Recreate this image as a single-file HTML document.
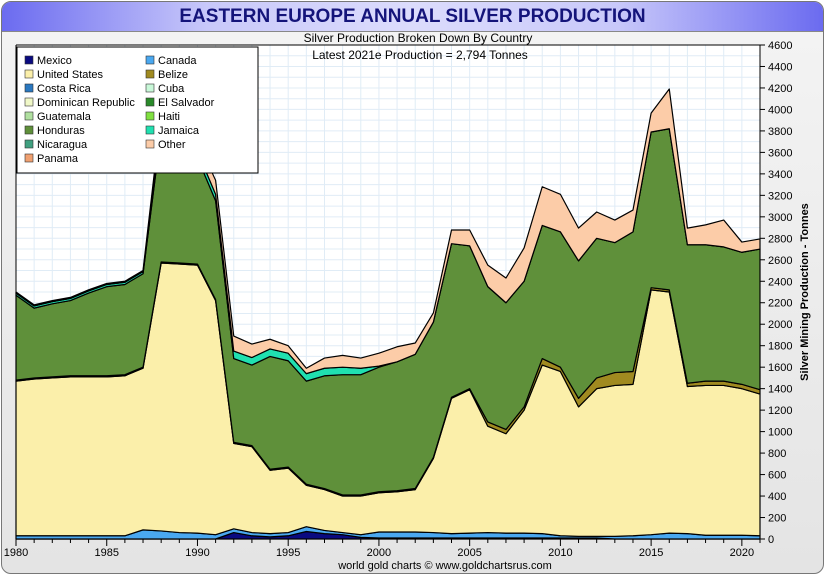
<!DOCTYPE html>
<html><head><meta charset="utf-8"><style>
body{margin:0;width:825px;height:575px;overflow:hidden;background:#fff;font-family:"Liberation Sans",sans-serif}
#frame{position:absolute;left:1px;top:1px;width:821px;height:571px;border:1px solid #777;border-radius:10px;background:linear-gradient(#f4f4f4,#e4e4e4);overflow:hidden}
#title{position:absolute;left:0;top:0;width:821px;height:29px;background:linear-gradient(90deg,#6b6bf0,#c8c8fa 25%,#dcdcfc 50%,#c8c8fa 75%,#6b6bf0);border-bottom:1px solid #888;text-align:center;font:bold 19px "Liberation Sans",sans-serif;color:#14147a;line-height:30px}
svg{position:absolute;left:0;top:0}
</style></head><body>
<div id="frame"><div id="title">EASTERN EUROPE ANNUAL SILVER PRODUCTION</div></div>
<svg id="chart" width="825" height="575"></svg>
<script>
const years=[];for(let y=1980;y<=2021;y++)years.push(y);
const mexico=[0,0,0,0,0,0,0,0,0,0,0,0,60,30,20,30,70,50,40,15,10,10,10,10,10,10,10,10,10,10,10,10,10,0,0,0,0,0,0,0,0,0];
const canada=[30,30,30,30,30,30,30,85,75,60,55,40,35,30,30,30,45,30,20,25,55,55,55,50,40,45,50,45,45,40,20,15,15,25,30,40,55,50,35,35,35,30];
const unitedStates=[1440,1460,1470,1480,1480,1480,1490,1505,2495,2500,2495,2180,795,800,590,600,385,380,340,360,365,375,395,690,1260,1335,990,925,1145,1570,1530,1205,1375,1405,1410,2280,2245,1370,1395,1395,1365,1320];
const belize=[10,10,10,10,10,10,10,10,10,10,10,10,10,10,10,10,10,10,10,10,10,10,10,10,10,10,40,40,30,60,40,80,100,120,120,20,20,30,40,40,40,40];
const honduras=[790,650,680,700,770,830,840,870,1220,1280,990,920,780,750,1050,990,960,1050,1120,1120,1160,1200,1250,1260,1430,1330,1260,1180,1170,1240,1260,1280,1300,1210,1300,1450,1500,1290,1270,1250,1230,1310];
const jamaica=[20,20,20,20,20,20,20,20,60,60,60,60,70,70,70,70,70,70,70,60,10,0,0,0,0,0,0,0,0,0,0,0,0,0,0,0,0,0,0,0,0,0];
const other=[10,10,10,10,10,10,10,10,100,100,100,130,140,125,90,70,50,95,110,95,120,140,105,85,127,147,200,230,310,360,350,305,245,210,203,176,370,155,185,250,95,94];
const yTicks=[0,200,400,600,800,1000,1200,1400,1600,1800,2000,2200,2400,2600,2800,3000,3200,3400,3600,3800,4000,4200,4400,4600];
const xTickLabels=[1980,1985,1990,1995,2000,2005,2010,2015,2020];
const series=[["Mexico",mexico,"#0a0a80"],["Canada",canada,"#4aa8f0"],["United States",unitedStates,"#fbefaa"],["Belize",belize,"#a08a20"],["Honduras",honduras,"#5f903a"],["Jamaica",jamaica,"#20e0b0"],["Other",other,"#fccca8"]];
const legendItems=[["Mexico","#0a0a80"],["Canada","#4aa8f0"],["United States","#fbefaa"],["Belize","#a08a20"],["Costa Rica","#2a78c0"],["Cuba","#c8f8d8"],["Dominican Republic","#f0f8c8"],["El Salvador","#2a8a2a"],["Guatemala","#b0e0a0"],["Haiti","#80e040"],["Honduras","#5f903a"],["Jamaica","#20e0b0"],["Nicaragua","#40a080"],["Other","#fccca8"],["Panama","#f0a070"]];
const L=16,R=760,T=45,B=539,Y0=1980,Y1=2021,VMAX=4600;
const X=y=>L+(y-Y0)*(R-L)/(Y1-Y0), Y=v=>B-v*(B-T)/VMAX;
const svg=document.getElementById('chart'),NS='http://www.w3.org/2000/svg';
function mk(t,a,p){const e=document.createElementNS(NS,t);for(const k in a)e.setAttribute(k,a[k]);(p||svg).appendChild(e);return e;}
let e=mk('rect',{x:L,y:T,width:R-L,height:B-T,fill:'#fff'});


for(let y=Y0;y<=Y1;y++){mk('line',{x1:X(y),x2:X(y),y1:T,y2:B,stroke:'#e0ecf6','stroke-width':1});}
for(let v=0;v<=VMAX;v+=100){mk('line',{x1:L,x2:R,y1:Y(v),y2:Y(v),stroke:'#e0ecf6','stroke-width':1});}
let base=years.map(()=>0);
series.forEach(([name,vals,col])=>{
 const top=base.map((b,i)=>b+vals[i]);
 let d='M'+years.map((y,i)=>X(y)+','+Y(top[i])).join('L');
 for(let i=years.length-1;i>=0;i--)d+='L'+X(years[i])+','+Y(base[i]);
 const p=mk('path',{d:d+'Z',fill:col,stroke:'#000','stroke-width':1.2,'stroke-linejoin':'round'});
 
 
 base=top;
});
mk('line',{x1:L,x2:R,y1:B,y2:B,stroke:'#000'});mk('line',{x1:R,x2:R,y1:T,y2:B,stroke:'#000'});
mk('line',{x1:L,x2:L,y1:T,y2:B,stroke:'#000'});mk('line',{x1:L,x2:R,y1:T,y2:T,stroke:'#000'});
for(let y=Y0;y<=Y1;y++){mk('line',{x1:X(y),x2:X(y),y1:B,y2:B+(y%5?4:7),stroke:'#000'});}
xTickLabels.forEach(y=>{const t=mk('text',{x:X(y),y:556,'text-anchor':'middle','font-size':11});t.textContent=y;
 
 });
yTicks.forEach(v=>{mk('line',{x1:R,x2:R+5,y1:Y(v),y2:Y(v),stroke:'#000'});const t=mk('text',{x:R+8,y:Y(v)+4,'font-size':11});t.textContent=v;
 
 });
let t=mk('text',{x:808,y:292,'text-anchor':'middle','font-size':11,'font-weight':'bold',transform:'rotate(-90 808 292)'});t.textContent='Silver Mining Production - Tonnes';


t=mk('text',{x:418,y:42,'text-anchor':'middle','font-size':12});t.textContent='Silver Production Broken Down By Country';


t=mk('text',{x:420,y:59,'text-anchor':'middle','font-size':12});t.textContent='Latest 2021e  Production = 2,794 Tonnes';


t=mk('text',{x:445,y:569,'text-anchor':'middle','font-size':11});t.textContent='world gold charts © www.goldchartsrus.com';


const lg=mk('g',{});


mk('rect',{x:17,y:47,width:241,height:126,fill:'#fff',stroke:'#000'},lg);
legendItems.forEach(([n,c],i)=>{const cx=25+(i%2)*121,cy=56+Math.floor(i/2)*14;
 const g=mk('g',{},lg);
 
 
 mk('rect',{x:cx,y:cy,width:8,height:8,fill:c,stroke:'#333','stroke-width':0.6},g);
 const tx=mk('text',{x:cx+12,y:cy+8,'font-size':11},g);tx.textContent=n;});
</script>
</body></html>
